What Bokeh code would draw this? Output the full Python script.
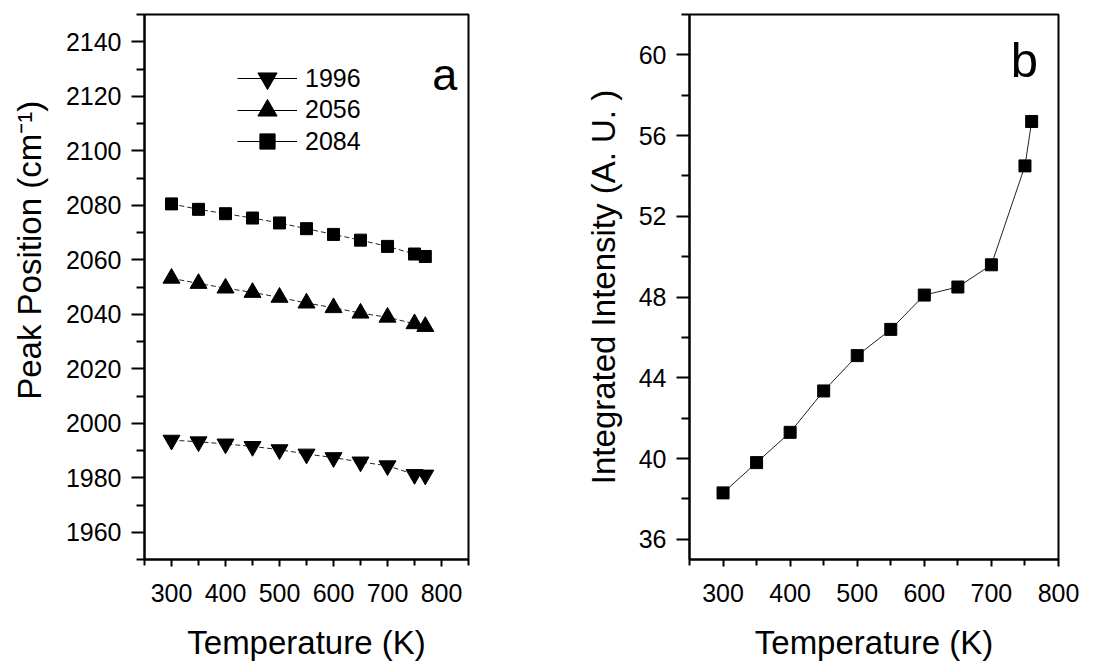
from math import pi
from bokeh.plotting import figure
from bokeh.layouts import row
from bokeh.models import FixedTicker, Label, Legend, LegendItem, Range1d, ColumnDataSource
from bokeh.embed import file_html
from bokeh.resources import INLINE

# ---- data: panel a (peak positions) ----
temp_a = [300, 350, 400, 450, 500, 550, 600, 650, 700, 750, 770]
peak_1996 = [1993.8, 1993.2, 1992.4, 1991.5, 1990.3, 1988.7, 1987.4, 1985.8, 1984.4, 1981.2, 1981.0]
peak_2056 = [2053.2, 2051.3, 2049.6, 2048.0, 2046.2, 2044.1, 2042.4, 2040.4, 2038.9, 2036.5, 2035.5]
peak_2084 = [2080.5, 2078.5, 2076.9, 2075.3, 2073.5, 2071.4, 2069.3, 2067.2, 2064.9, 2062.1, 2061.2]
series_labels = ["1996", "2056", "2084"]

# ---- data: panel b (integrated intensity) ----
temp_b = [300, 350, 400, 450, 500, 550, 600, 650, 700, 750, 760]
intensity = [38.3, 39.8, 41.3, 43.35, 45.1, 46.4, 48.1, 48.5, 49.6, 54.5, 56.7]

# ---- ticks ----
x_major = [300, 400, 500, 600, 700, 800]
x_minor_a = [250, 350, 450, 550, 650, 750, 850]
x_minor_b = [250, 350, 450, 550, 650, 750]
ya_major = [1960, 1980, 2000, 2020, 2040, 2060, 2080, 2100, 2120, 2140]
ya_minor = [1950, 1970, 1990, 2010, 2030, 2050, 2070, 2090, 2110, 2130, 2150]
yb_major = [36, 40, 44, 48, 52, 56, 60]
yb_minor = [38, 42, 46, 50, 54, 58, 62]

FONT = "Liberation Sans"


def style(p):
    p.outline_line_color = "black"
    p.outline_line_width = 2
    p.xgrid.visible = False
    p.ygrid.visible = False
    p.background_fill_color = "white"
    p.border_fill_color = "white"
    for ax in (p.xaxis[0], p.yaxis[0]):
        ax.axis_line_width = 2
        ax.axis_line_color = "black"
        ax.major_tick_line_width = 2
        ax.minor_tick_line_width = 2
        ax.major_tick_line_color = "black"
        ax.minor_tick_line_color = "black"
        ax.major_tick_in = 0
        ax.minor_tick_in = 0
        ax.major_label_text_font = FONT
        ax.major_label_text_font_size = "25px"
        ax.major_label_text_color = "black"
        ax.axis_label_text_font = FONT
        ax.axis_label_text_font_size = "33px"
        ax.axis_label_text_font_style = "normal"
        ax.axis_label_text_color = "black"
    p.yaxis[0].major_tick_out = 13
    p.yaxis[0].minor_tick_out = 8
    p.yaxis[0].major_label_standoff = 10
    p.xaxis[0].major_tick_out = 7
    p.xaxis[0].minor_tick_out = 6
    p.xaxis[0].major_label_standoff = 17
    p.xaxis[0].axis_label_standoff = 19


# ---------------- panel a ----------------
p1 = figure(frame_width=324, frame_height=545, min_border_left=144, min_border_right=92,
            min_border_top=14, min_border_bottom=100,
            x_range=Range1d(250, 850), y_range=Range1d(1950, 2150),
            output_backend="svg", toolbar_location=None)
style(p1)
p1.xaxis[0].ticker = FixedTicker(ticks=x_major, minor_ticks=x_minor_a)
p1.yaxis[0].ticker = FixedTicker(ticks=ya_major, minor_ticks=ya_minor)
p1.xaxis[0].axis_label = "Temperature (K)"
# leading no-break spaces move the centred (rotated) title up, as in the original figure
p1.yaxis[0].axis_label = "\u00a0" * 8 + "Peak Position (cm⁻¹)"
p1.yaxis[0].axis_label_standoff = 15

src_a = ColumnDataSource(dict(t=temp_a, s1996=peak_1996, s2056=peak_2056, s2084=peak_2084))
markers = {"1996": ("s1996", "inverted_triangle", 17), "2056": ("s2056", "triangle", 17),
           "2084": ("s2084", "square", 12)}
# legend row placement (centre of row, px below frame top) and legend glyph box height
legend_rows = {"1996": (64, 48), "2056": (95.5, 48), "2084": (127, 38)}

# proxy (no visible data) solid line so that legend entries show a solid line through the marker
proxy_src = ColumnDataSource(dict(x=[float("nan")], y=[float("nan")]))
leg_line = p1.line("x", "y", source=proxy_src, line_color="black", line_width=1)

for lab in series_labels:
    col, mk, sz = markers[lab]
    p1.line("t", col, source=src_a, line_color="#222222", line_width=1, line_dash="5 3")
    sr = p1.scatter("t", col, source=src_a, marker=mk, size=sz,
                    fill_color="black", line_color="black")
    yc, gh = legend_rows[lab]
    lg = Legend(items=[LegendItem(label=lab, renderers=[leg_line, sr])],
                location=(93, 545 - yc - gh / 2), orientation="vertical",
                glyph_width=60, glyph_height=gh, spacing=0, label_height=20,
                label_standoff=8, padding=0, margin=0,
                label_text_font=FONT, label_text_font_size="25px", label_text_color="black",
                border_line_color=None, background_fill_alpha=0)
    p1.add_layout(lg, "center")

p1.add_layout(Label(x=806, y=2128.0, text="a", text_font=FONT, text_font_size="45px",
                    text_align="center", text_baseline="alphabetic", text_color="black"))

# ---------------- panel b ----------------
p2 = figure(frame_width=369, frame_height=545, min_border_left=129, min_border_right=30,
            min_border_top=14, min_border_bottom=100,
            x_range=Range1d(250, 800), y_range=Range1d(35, 62),
            output_backend="svg", toolbar_location=None)
style(p2)
p2.xaxis[0].ticker = FixedTicker(ticks=x_major, minor_ticks=x_minor_b)
p2.yaxis[0].ticker = FixedTicker(ticks=yb_major, minor_ticks=yb_minor)
p2.xaxis[0].axis_label = "Temperature (K)"
p2.yaxis[0].axis_label = "Integrated Intensity (A. U. )"
p2.yaxis[0].axis_label_standoff = 14

src_b = ColumnDataSource(dict(t=temp_b, v=intensity))
p2.line("t", "v", source=src_b, line_color="#222222", line_width=1)
p2.scatter("t", "v", source=src_b, marker="square", size=12, fill_color="black", line_color="black")
p2.add_layout(Label(x=749, y=59.75, text="b", text_font=FONT, text_font_size="49px",
                    text_align="center", text_baseline="alphabetic", text_color="black"))

layout = row(p1, p2)
open("out.html", "w").write(file_html(layout, INLINE))
